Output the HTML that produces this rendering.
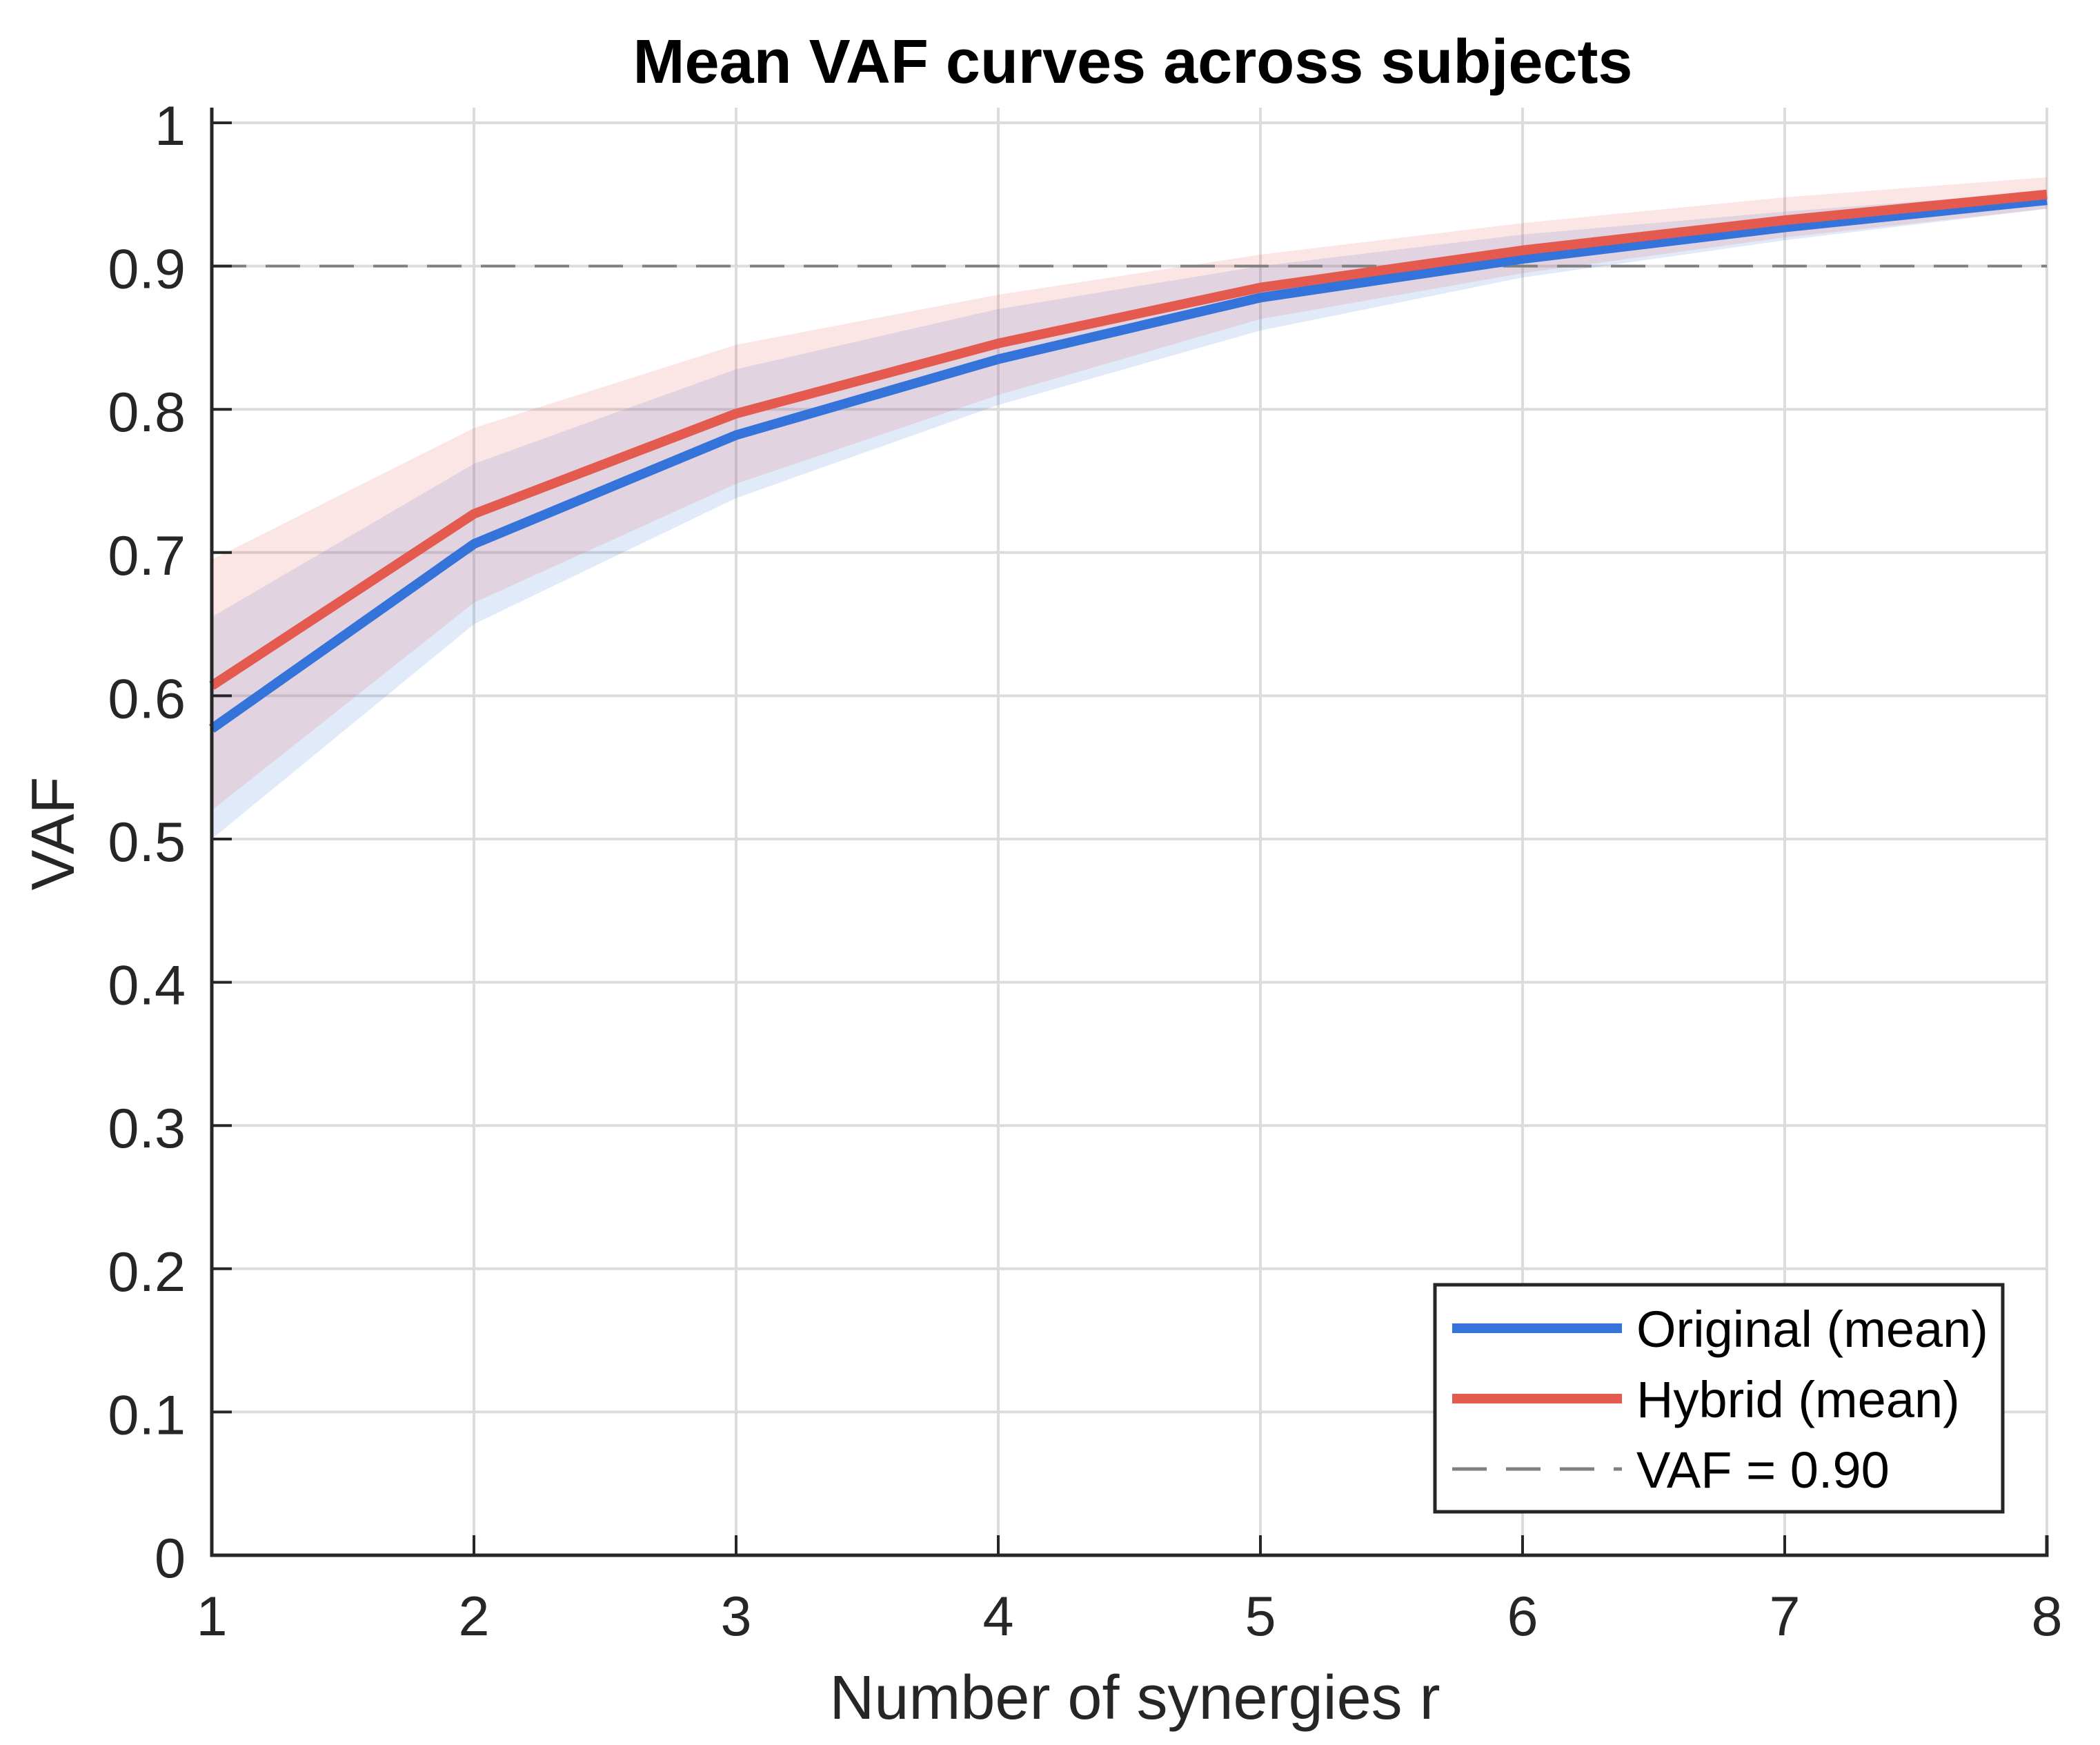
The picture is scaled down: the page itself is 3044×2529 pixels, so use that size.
<!DOCTYPE html>
<html><head><meta charset="utf-8"><style>
html,body{margin:0;padding:0;background:#fff;}
svg{display:block;font-family:"Liberation Sans",Arial,sans-serif;}
</style></head><body>
<svg id="chart" width="3044" height="2529" viewBox="0 0 3044 2529">
<g id="grid"></g>
<g id="bands"></g>
<g id="lines"></g>
<g id="axes"></g>
<text x="1642" y="120" font-size="90" font-weight="bold" text-anchor="middle" fill="#000">Mean VAF curves across subjects</text>
<text x="1645" y="2491" font-size="90" text-anchor="middle" fill="#262626">Number of synergies r</text>
<text transform="translate(107,1208) rotate(-90)" font-size="88" text-anchor="middle" fill="#262626">VAF</text>
<g>
<rect x="2080" y="1862" width="823" height="329" fill="#fff" stroke="#262626" stroke-width="5"/>
<line x1="2105" y1="1925" x2="2351" y2="1925" stroke="#3473d9" stroke-width="14"/>
<text x="2372" y="1952" font-size="74" fill="#000">Original (mean)</text>
<line x1="2105" y1="2027" x2="2351" y2="2027" stroke="#e45a4f" stroke-width="14"/>
<text x="2372" y="2054" font-size="74" fill="#000">Hybrid (mean)</text>
<line x1="2105" y1="2129" x2="2351" y2="2129" stroke="#808080" stroke-width="5" stroke-dasharray="50,28"/>
<text x="2372" y="2156" font-size="74" fill="#000">VAF = 0.90</text>
</g>
</svg>
<script>
const categories=[1,2,3,4,5,6,7,8];
const origMean=[0.577,0.706,0.782,0.835,0.878,0.905,0.927,0.946];
const hybMean=[0.607,0.727,0.797,0.846,0.885,0.911,0.932,0.950];
const origLow=[0.50,0.650,0.738,0.803,0.855,0.892,0.918,0.940];
const origHigh=[0.655,0.762,0.828,0.870,0.900,0.922,0.938,0.952];
const hybLow=[0.52,0.665,0.748,0.810,0.863,0.895,0.920,0.940];
const hybHigh=[0.695,0.787,0.845,0.880,0.908,0.930,0.948,0.962];
const yTicks=[0,0.1,0.2,0.3,0.4,0.5,0.6,0.7,0.8,0.9,1];
const yTickLabels=["0","0.1","0.2","0.3","0.4","0.5","0.6","0.7","0.8","0.9","1"];
const threshold=0.9;
const X0=307,X1=2967,Y0=2254,Y1=178;
const sx=v=>X0+(v-1)/(8-1)*(X1-X0);
const sy=v=>Y0-v*(Y0-Y1);
const NS="http://www.w3.org/2000/svg";
function mk(tag,attrs,parent){const e=document.createElementNS(NS,tag);for(const k in attrs)e.setAttribute(k,attrs[k]);parent.appendChild(e);return e;}
const grid=document.getElementById('grid'),bands=document.getElementById('bands'),lines=document.getElementById('lines'),axes=document.getElementById('axes');
categories.forEach(c=>{const l=mk('line',{x1:sx(c),x2:sx(c),y1:156,y2:Y0,stroke:'#dcdcdc','stroke-width':4},grid);


const t=mk('text',{x:sx(c),y:2370,'font-size':81,'text-anchor':'middle',fill:'#262626'},axes);t.textContent=c;


const tk=mk('line',{x1:sx(c),x2:sx(c),y1:Y0,y2:Y0-29,stroke:'#262626','stroke-width':4},axes);

});
yTicks.forEach((v,i)=>{const l=mk('line',{x1:X0,x2:X1,y1:sy(v),y2:sy(v),stroke:'#dcdcdc','stroke-width':4},grid);


const t=mk('text',{x:269,y:sy(v)+32,'font-size':81,'text-anchor':'end',fill:'#262626'},axes);t.textContent=yTickLabels[i];


const tk=mk('line',{x1:X0,x2:X0+29,y1:sy(v),y2:sy(v),stroke:'#262626','stroke-width':4},axes);

});
function band(lo,hi,color,name){const pts=categories.map((c,i)=>sx(c)+','+sy(hi[i])).concat(categories.slice().reverse().map((c,j)=>{const i=categories.length-1-j;return sx(c)+','+sy(lo[i]);}));
const p=mk('polygon',{points:pts.join(' '),fill:color,'fill-opacity':0.15},bands);

}
band(origLow,origHigh,'#3473d9','band-original');
band(hybLow,hybHigh,'#e45a4f','band-hybrid');
const th=mk('line',{x1:X0,x2:X1,y1:sy(threshold),y2:sy(threshold),stroke:'#808080','stroke-width':4,'stroke-dasharray':'50,28'},lines);


function line(vals,color,name){const p=mk('polyline',{points:categories.map((c,i)=>sx(c)+','+sy(vals[i])).join(' '),fill:'none',stroke:color,'stroke-width':14,'stroke-linejoin':'round'},lines);

}
line(origMean,'#3473d9','line-original');
line(hybMean,'#e45a4f','line-hybrid');
const ax=mk('path',{d:`M${X0},156 L${X0},${Y0} L${X1},${Y0} L${X1},${Y0-29}`,fill:'none',stroke:'#262626','stroke-width':5},axes);


</script>
</body></html>
